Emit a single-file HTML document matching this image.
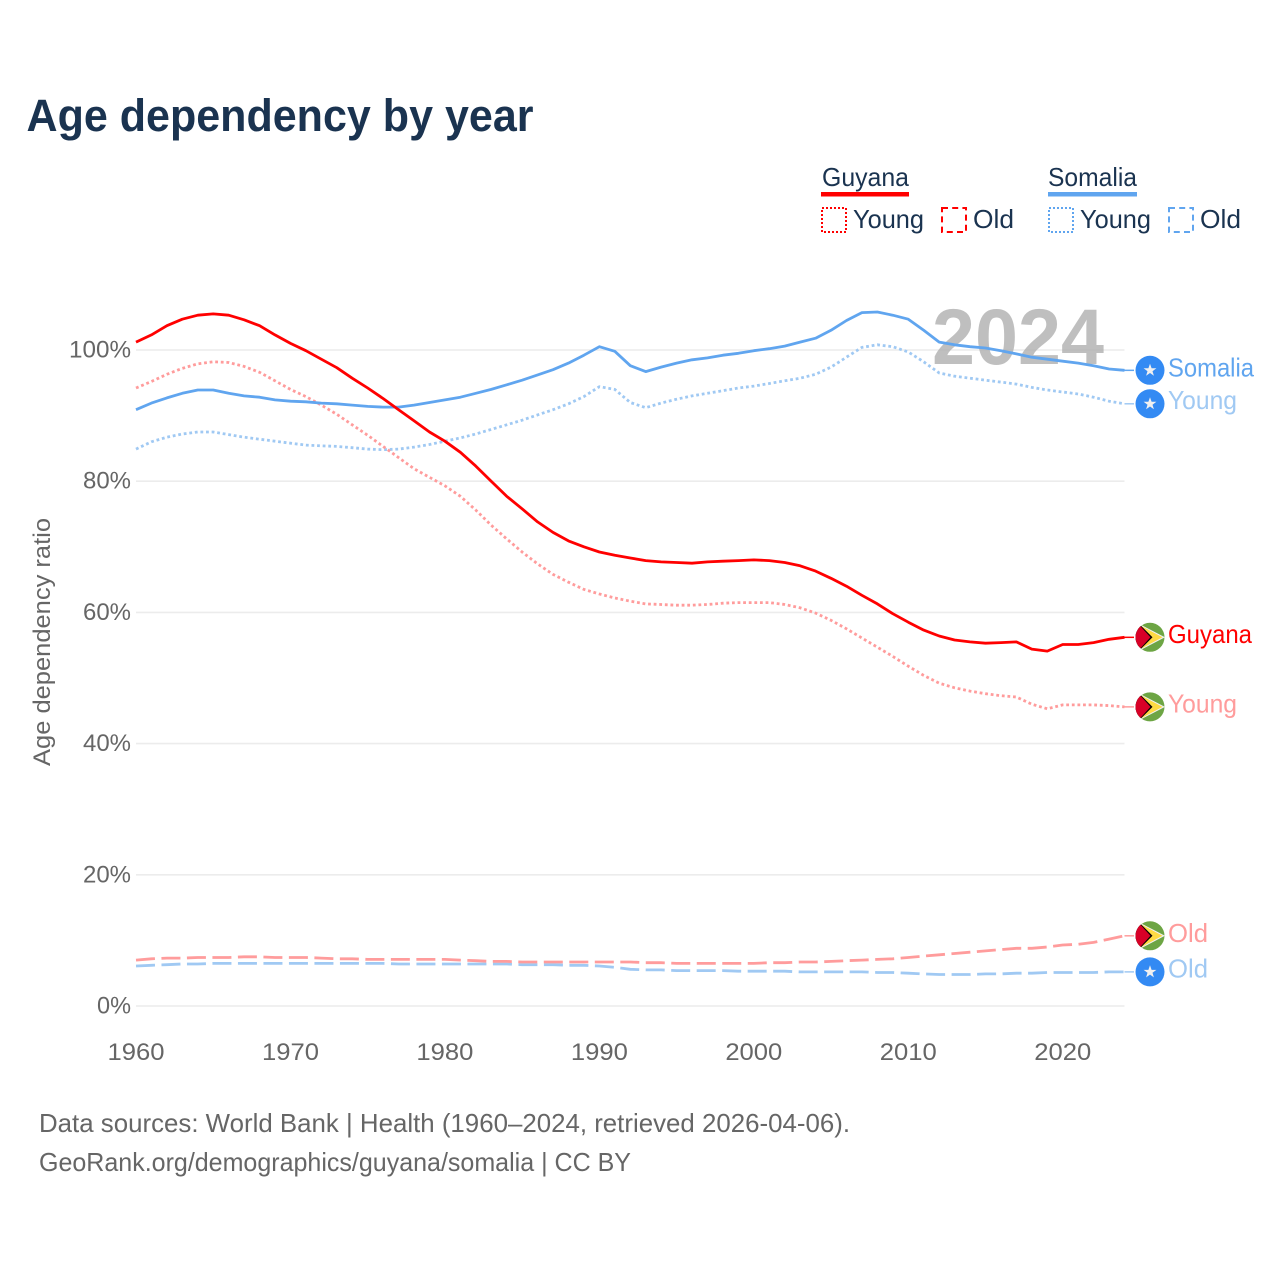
<!DOCTYPE html>
<html lang="en">
<head>
<meta charset="utf-8">
<title>Age dependency by year</title>
<style>
html,body{margin:0;padding:0;background:#fff;width:1280px;height:1280px;overflow:hidden}
svg{display:block}
text{font-family:"Liberation Sans",sans-serif}
</style>
</head>
<body>
<svg id="chart" xmlns="http://www.w3.org/2000/svg" width="1280" height="1280" viewBox="0 0 1280 1280">
  <defs>
    <clipPath id="flag-clip"><circle cx="0" cy="0" r="14.5"/></clipPath>
    <g id="flag-guyana">
      <g clip-path="url(#flag-clip)">
        <rect x="-15" y="-15" width="30" height="30" fill="#6da544"/>
        <path d="M-12,-14 L15,0 L-12,14 Z" fill="#f0f0f0"/>
        <path d="M-11,-12.5 L12.5,0 L-11,12.5 Z" fill="#ffda44"/>
        <path d="M-15,-17.5 L2.5,0 L-15,17.5 Z" fill="#000"/>
        <path d="M-15,-17 L0.5,0 L-15,17 Z" fill="#d80027"/>
      </g>
    </g>
    <g id="flag-somalia">
      <circle cx="0" cy="0" r="14.5" fill="#338af3"/>
      <path d="M0,-6.6 L1.6,-2 L6.4,-2 L2.5,0.9 L3.9,5.5 L0,2.7 L-3.9,5.5 L-2.5,0.9 L-6.4,-2 L-1.6,-2 Z" fill="#f0f0f0"/>
    </g>
  </defs>

  <text x="26.5" y="131" font-size="45" font-weight="700" fill="#1a3350" textLength="507" lengthAdjust="spacingAndGlyphs">Age dependency by year</text>

  <g>
    <g>
      <text x="822" y="186" font-size="26" fill="#1a3350" textLength="87" lengthAdjust="spacingAndGlyphs">Guyana</text>
      <rect x="821" y="192" width="88" height="4.5" fill="#ff0000"/>
    </g>
    <g>
      <rect x="822" y="208" width="24" height="24" fill="none" stroke="#ff0000" stroke-width="2" stroke-dasharray="2 2"/>
      <text x="853" y="228" font-size="26" fill="#1a3350" textLength="71" lengthAdjust="spacingAndGlyphs">Young</text>
    </g>
    <g>
      <rect x="942" y="208" width="24" height="24" fill="none" stroke="#ff0000" stroke-width="2" stroke-dasharray="6 4.2"/>
      <text x="973" y="228" font-size="26" fill="#1a3350" textLength="41" lengthAdjust="spacingAndGlyphs">Old</text>
    </g>
    <g>
      <text x="1048" y="186" font-size="26" fill="#1a3350" textLength="89" lengthAdjust="spacingAndGlyphs">Somalia</text>
      <rect x="1048" y="192" width="89" height="4.5" fill="#60a5ef"/>
    </g>
    <g>
      <rect x="1049" y="208" width="24" height="24" fill="none" stroke="#60a5ef" stroke-width="2" stroke-dasharray="2 2"/>
      <text x="1080" y="228" font-size="26" fill="#1a3350" textLength="71" lengthAdjust="spacingAndGlyphs">Young</text>
    </g>
    <g>
      <rect x="1169" y="208" width="24" height="24" fill="none" stroke="#60a5ef" stroke-width="2" stroke-dasharray="6 4.2"/>
      <text x="1200" y="228" font-size="26" fill="#1a3350" textLength="41" lengthAdjust="spacingAndGlyphs">Old</text>
    </g>
  </g>

  <g id="grid"></g>
  <text x="932" y="364" font-size="79" font-weight="700" fill="#aaaaaa" fill-opacity="0.75" textLength="172" lengthAdjust="spacingAndGlyphs">2024</text>
  <g id="y-ticks"></g>
  <g id="x-ticks"></g>
  <text transform="translate(50,642) rotate(-90)" text-anchor="middle" font-size="24.5" fill="#666666" textLength="248" lengthAdjust="spacingAndGlyphs">Age dependency ratio</text>
  <g id="series"></g>
  <g id="end-labels"></g>

  <text x="39" y="1132" font-size="26" fill="#666666" textLength="811" lengthAdjust="spacingAndGlyphs">Data sources: World Bank | Health (1960–2024, retrieved 2026-04-06).</text>
  <text x="39" y="1171" font-size="26" fill="#666666" textLength="592" lengthAdjust="spacingAndGlyphs">GeoRank.org/demographics/guyana/somalia | CC BY</text>
</svg>

<script>
const startYear = 1960;
const endYear = 2024;
const yTickValues = [0, 20, 40, 60, 80, 100];
const xTickValues = [1960, 1970, 1980, 1990, 2000, 2010, 2020];

const guyanaTotal = [101.2,102.3,103.7,104.7,105.3,105.5,105.3,104.6,103.7,102.3,101,99.9,98.6,97.3,95.7,94.2,92.6,90.9,89.2,87.5,86.1,84.4,82.3,80,77.7,75.8,73.8,72.2,70.9,70,69.2,68.7,68.3,67.9,67.7,67.6,67.5,67.7,67.8,67.9,68,67.9,67.6,67.1,66.3,65.2,64,62.6,61.3,59.8,58.5,57.3,56.4,55.8,55.5,55.3,55.4,55.5,54.4,54.1,55.1,55.1,55.4,55.9,56.2];
const guyanaYoung = [94.2,95.2,96.3,97.2,97.9,98.2,98.1,97.5,96.6,95.3,94,92.9,91.6,90.2,88.6,87,85.3,83.6,81.9,80.6,79.3,77.7,75.6,73.3,71.2,69.2,67.4,65.8,64.6,63.5,62.8,62.2,61.7,61.3,61.2,61.1,61.1,61.2,61.4,61.5,61.5,61.5,61.2,60.7,59.9,58.8,57.5,56.1,54.7,53.3,51.8,50.4,49.2,48.5,48,47.6,47.3,47.1,46,45.3,45.9,45.9,45.9,45.8,45.6];
const guyanaOld = [7,7.2,7.3,7.3,7.4,7.4,7.4,7.5,7.5,7.4,7.4,7.4,7.3,7.2,7.2,7.1,7.1,7.1,7.1,7.1,7.1,7,6.9,6.8,6.8,6.7,6.7,6.7,6.7,6.7,6.7,6.7,6.7,6.6,6.6,6.5,6.5,6.5,6.5,6.5,6.5,6.6,6.6,6.7,6.7,6.8,6.9,7,7.1,7.2,7.4,7.6,7.8,8,8.2,8.4,8.6,8.8,8.8,9,9.3,9.4,9.7,10.2,10.7];
const somaliaTotal = [90.9,91.9,92.7,93.4,93.9,93.9,93.4,93,92.8,92.4,92.2,92.1,91.9,91.8,91.6,91.4,91.3,91.3,91.6,92,92.4,92.8,93.4,94,94.7,95.4,96.2,97,98,99.2,100.5,99.8,97.6,96.7,97.4,98,98.5,98.8,99.2,99.5,99.9,100.2,100.6,101.2,101.8,103,104.5,105.7,105.8,105.3,104.7,103,101.2,100.8,100.5,100.3,99.9,99.4,98.9,98.6,98.3,98,97.6,97.1,96.9];
const somaliaYoung = [84.9,86,86.7,87.2,87.5,87.5,87.1,86.7,86.4,86.1,85.8,85.5,85.4,85.3,85.1,84.9,84.8,84.9,85.2,85.6,86.1,86.6,87.2,87.9,88.6,89.3,90.1,90.9,91.8,92.9,94.4,94,92,91.2,91.9,92.5,93,93.4,93.8,94.2,94.5,94.9,95.3,95.7,96.3,97.4,98.9,100.4,100.8,100.5,99.7,98.2,96.5,96,95.7,95.4,95.1,94.8,94.3,93.9,93.6,93.3,92.8,92.2,91.8];
const somaliaOld = [6.1,6.2,6.3,6.4,6.4,6.5,6.5,6.5,6.5,6.5,6.5,6.5,6.5,6.5,6.5,6.5,6.5,6.4,6.4,6.4,6.4,6.4,6.4,6.4,6.4,6.3,6.3,6.3,6.2,6.2,6.1,5.9,5.6,5.5,5.5,5.4,5.4,5.4,5.4,5.3,5.3,5.3,5.3,5.2,5.2,5.2,5.2,5.2,5.1,5.1,5,4.9,4.8,4.8,4.8,4.9,4.9,5,5,5.1,5.1,5.1,5.1,5.2,5.2];

const plotLeft = 136, plotRight = 1124.5, plotBottom = 1006, plotTop100 = 350;
function xScale(year) { return plotLeft + (year - startYear) * (plotRight - plotLeft) / (endYear - startYear); }
function yScale(value) { return plotBottom - value * (plotBottom - plotTop100) / 100; }

const NS = 'http://www.w3.org/2000/svg';
function make(tag, attrs, parent) {
  const el = document.createElementNS(NS, tag);
  for (const k in attrs) el.setAttribute(k, attrs[k]);
  parent.appendChild(el);
  return el;
}

const gridG = document.getElementById('grid');
const yTicksG = document.getElementById('y-ticks');
yTickValues.forEach(function (v) {
  const line = make('line', { x1: plotLeft, x2: plotRight, y1: yScale(v), y2: yScale(v), stroke: '#ececec', 'stroke-width': 1.6 }, gridG);
  
  
  const label = make('text', { x: 131, y: yScale(v) + 7.5, 'text-anchor': 'end', 'font-size': 24.5, fill: '#666666' }, yTicksG);
  
  
  label.textContent = v + '%';
  const digits = String(v).length;
  label.setAttribute('textLength', digits === 3 ? 62 : digits === 2 ? 48 : 34);
  label.setAttribute('lengthAdjust', 'spacingAndGlyphs');
});

const xTicksG = document.getElementById('x-ticks');
xTickValues.forEach(function (y) {
  const label = make('text', { x: xScale(y), y: 1060, 'text-anchor': 'middle', 'font-size': 24.5, fill: '#666666', textLength: 57, lengthAdjust: 'spacingAndGlyphs' }, xTicksG);
  
  
  label.textContent = y;
});

const seriesG = document.getElementById('series');
const leaderEnd = 1134;
function drawSeries(name, values, color, dash) {
  let d = '';
  values.forEach(function (v, i) {
    d += (i ? 'L' : 'M') + xScale(startYear + i).toFixed(1) + ',' + yScale(v).toFixed(1);
  });
  const attrs = { d: d, fill: 'none', stroke: color, 'stroke-width': 2.8, 'stroke-linejoin': 'round' };
  if (dash) attrs['stroke-dasharray'] = dash;
  const path = make('path', attrs, seriesG);
  
  
  const last = values[values.length - 1];
  const leader = make('line', { x1: plotRight, x2: leaderEnd, y1: yScale(last), y2: yScale(last), stroke: color, 'stroke-width': 1.5 }, seriesG);
  
  
}
drawSeries('somalia-old-line', somaliaOld, '#a0c9f3', '19 6.5');
drawSeries('guyana-old-line', guyanaOld, '#ff9c9c', '19 6.5');
drawSeries('somalia-young-line', somaliaYoung, '#a0c9f3', '2.8 2.8');
drawSeries('guyana-young-line', guyanaYoung, '#ff9c9c', '2.8 2.8');
drawSeries('somalia-total-line', somaliaTotal, '#60a5ef', null);
drawSeries('guyana-total-line', guyanaTotal, '#ff0000', null);

const endG = document.getElementById('end-labels');
function drawEnd(name, flag, values, text, color, width, labelY) {
  const last = values[values.length - 1];
  const icon = make('use', { href: '#' + flag, transform: 'translate(1150,' + yScale(last).toFixed(1) + ')' }, endG);
  
  
  const label = make('text', { x: 1168, y: yScale(last) + labelY, 'font-size': 26, fill: color, textLength: width, lengthAdjust: 'spacingAndGlyphs' }, endG);
  
  
  label.textContent = text;
}
drawEnd('somalia-total', 'flag-somalia', somaliaTotal, 'Somalia', '#60a5ef', 86, 6);
drawEnd('somalia-young', 'flag-somalia', somaliaYoung, 'Young', '#a0c9f3', 69, 5);
drawEnd('guyana-total', 'flag-guyana', guyanaTotal, 'Guyana', '#ff0000', 84, 5.5);
drawEnd('guyana-young', 'flag-guyana', guyanaYoung, 'Young', '#ff9c9c', 69, 5.5);
drawEnd('guyana-old', 'flag-guyana', guyanaOld, 'Old', '#ff9c9c', 40, 6);
drawEnd('somalia-old', 'flag-somalia', somaliaOld, 'Old', '#a0c9f3', 40, 5.5);
</script>
</body>
</html>
